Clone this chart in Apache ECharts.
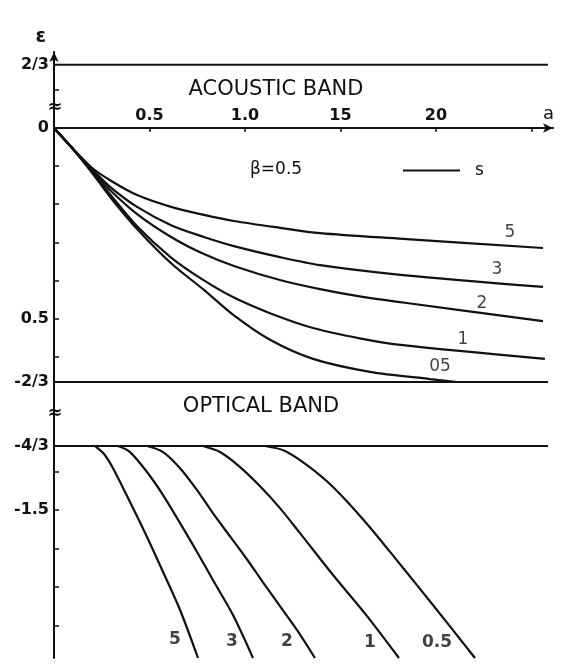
<!DOCTYPE html>
<html><head><meta charset="utf-8">
<script src="https://cdn.jsdelivr.net/npm/echarts@6/dist/echarts.min.js"></script>
<style>html,body{margin:0;padding:0;background:#fff}#c{width:565px;height:671px}</style>
</head><body><div id="c"></div>
<script>
// ---------- DATA ----------
const sValues = [5, 3, 2, 1, 0.5];
const acousticLabels = ['5', '3', '2', '1', '05'];
const opticalLabels = ['5', '3', '2', '1', '0.5'];

// acoustic band curves  [a, epsilon]
const acousticS5 = [[0,0],[0.10,-0.055],[0.20,-0.105],[0.30,-0.139],[0.435,-0.176],[0.613,-0.207],[0.785,-0.228],[0.942,-0.244],[1.183,-0.262],[1.393,-0.276],[1.827,-0.291],[2.56,-0.315]];
const acousticS3 = [[0,0],[0.10,-0.055],[0.20,-0.108],[0.30,-0.157],[0.435,-0.207],[0.613,-0.255],[0.785,-0.286],[0.942,-0.310],[1.183,-0.339],[1.393,-0.360],[1.827,-0.386],[2.56,-0.417]];
const acousticS2 = [[0,0],[0.10,-0.055],[0.20,-0.112],[0.30,-0.166],[0.435,-0.226],[0.613,-0.286],[0.785,-0.331],[0.942,-0.362],[1.183,-0.399],[1.393,-0.423],[1.6,-0.442],[1.827,-0.458],[2.56,-0.507]];
const acousticS1 = [[0,0],[0.10,-0.056],[0.20,-0.116],[0.30,-0.178],[0.435,-0.258],[0.613,-0.340],[0.785,-0.400],[0.942,-0.445],[1.131,-0.486],[1.356,-0.525],[1.6,-0.552],[1.827,-0.570],[2.57,-0.606]];
const acousticS05 = [[0,0],[0.10,-0.056],[0.20,-0.118],[0.30,-0.185],[0.435,-0.265],[0.613,-0.355],[0.785,-0.425],[0.942,-0.492],[1.131,-0.556],[1.356,-0.606],[1.654,-0.640],[1.969,-0.659],[2.11,-0.6667]];

// optical band curves  [a, epsilon]
const opticalS5 = [[0.215,-1.3333],[0.262,-1.354],[0.309,-1.391],[0.398,-1.479],[0.487,-1.570],[0.571,-1.661],[0.660,-1.760],[0.754,-1.885]];
const opticalS3 = [[0.335,-1.3333],[0.398,-1.349],[0.487,-1.401],[0.571,-1.461],[0.660,-1.534],[0.749,-1.609],[0.832,-1.682],[0.937,-1.773],[1.042,-1.885]];
const opticalS2 = [[0.487,-1.3333],[0.571,-1.349],[0.660,-1.391],[0.749,-1.448],[0.832,-1.508],[0.921,-1.568],[1.010,-1.628],[1.094,-1.688],[1.183,-1.750],[1.272,-1.812],[1.366,-1.885]];
const opticalS1 = [[0.780,-1.3333],[0.869,-1.349],[0.974,-1.388],[1.079,-1.438],[1.183,-1.495],[1.288,-1.560],[1.461,-1.669],[1.639,-1.776],[1.806,-1.885]];
const opticalS05 = [[1.105,-1.3333],[1.209,-1.346],[1.325,-1.383],[1.461,-1.440],[1.639,-1.536],[1.812,-1.641],[1.984,-1.747],[2.204,-1.885]];

// band edges
const bandEdgeValues = [2/3, -2/3, -4/3];
const bandEdgeEnd = 2.586;

// axis ticks / labels
const xTickValues = [0.5, 1.0, 1.5, 2.0, 2.5];
const xLabelValues = [0.5, 1.0, 1.5, 2.0];
const xLabelTexts = ['0.5', '1.0', '15', '20'];
const topTickValues = [0.4];
const topLabelValues = [2/3];
const topLabelTexts = ['2/3'];
const acousticTickValues = [-0.1, -0.2, -0.3, -0.4, -0.5, -0.6];
const acousticLabelValues = [0, -0.5, -2/3];
const acousticLabelTexts = ['0', '0.5', '-2/3'];
const opticalTickValues = [-1.4, -1.5, -1.6, -1.7, -1.8];
const opticalLabelValues = [-4/3, -1.5];
const opticalLabelTexts = ['-4/3', '-1.5'];

// ---------- STYLE / LAYOUT ----------
const INK = '#111';
const FONT = '"DejaVu Sans", sans-serif';
const acousticLabelOffsets = [[-33,-15],[-46,-17],[-61,-18],[-82,-19],[-17,-15]];
const opticalLabelOffsets = [[-23,-18],[-21,-16],[-28,-16],[-29,-15],[-38,-15]];
const X_MAX = 499 / 191;

const acousticCurves = [acousticS5, acousticS3, acousticS2, acousticS1, acousticS05];
const opticalCurves = [opticalS5, opticalS3, opticalS2, opticalS1, opticalS05];

function fmt(values, texts) {
  return function (v) {
    for (let i = 0; i < values.length; i++) if (Math.abs(v - values[i]) < 1e-6) return texts[i];
    return '';
  };
}

function yAxis(gridIndex, min, max, ticks, labVals, labTexts, extra) {
  return Object.assign({
    type: 'value', gridIndex, min, max, position: 'left',
    axisLine: { show: true, onZero: false, lineStyle: { color: INK, width: 2 } },
    axisTick: { show: true, inside: true, length: 5, customValues: ticks, lineStyle: { color: INK, width: 1.5 } },
    axisLabel: { show: true, customValues: labVals, formatter: fmt(labVals, labTexts), margin: 5,
      color: INK, fontFamily: FONT, fontSize: 16, fontWeight: 'bold' },
    splitLine: { show: false }
  }, extra || {});
}

function hiddenX(gridIndex) {
  return { type: 'value', gridIndex, min: 0, max: X_MAX, show: false, splitLine: { show: false } };
}

const series = [];
function lineSeries(data, idx) {
  return { type: 'line', xAxisIndex: idx, yAxisIndex: idx, data, symbol: 'none', smooth: 0.3,
    silent: true, clip: false, lineStyle: { color: INK, width: 2.2 }, z: 3 };
}
acousticCurves.forEach(c => series.push(lineSeries(c, 1)));
opticalCurves.forEach(c => series.push(lineSeries(c, 2)));
bandEdgeValues.forEach((v, i) => {
  const s = lineSeries([[0, v], [bandEdgeEnd, v]], i);
  s.smooth = false;
  s.lineStyle = { color: INK, width: 2 };
  series.push(s);
});
// curve labels (s values) placed relative to each curve's end point
function labelSeries(curves, labels, offsets, idx, bold) {
  return { type: 'scatter', xAxisIndex: idx, yAxisIndex: idx, symbolSize: 0, silent: true, clip: false, z: 5,
    data: curves.map((c, i) => ({ value: c[c.length - 1],
      label: { show: true, position: 'inside', formatter: labels[i], offset: offsets[i],
        color: INK, fontFamily: FONT, fontSize: 17, fontWeight: bold ? 'bold' : 'normal' } })) };
}
series.push(labelSeries(acousticCurves, acousticLabels, acousticLabelOffsets, 1, false));
series.push(labelSeries(opticalCurves, opticalLabels, opticalLabelOffsets, 2, true));
// legend sample series
series.push({ name: 's', type: 'line', xAxisIndex: 1, yAxisIndex: 1, data: [], color: INK, lineStyle: { color: INK } });

const option = {
  animation: false,
  backgroundColor: '#fff',
  grid: [
    { left: 54, top: 52, width: 499, height: 76, outerBoundsMode: 'none' },
    { left: 54, top: 128, width: 499, height: 254, outerBoundsMode: 'none' },
    { left: 54, top: 382, width: 499, height: 276, outerBoundsMode: 'none' }
  ],
  xAxis: [
    hiddenX(0),
    { type: 'value', gridIndex: 1, min: 0, max: X_MAX, position: 'top',
      name: 'a', nameLocation: 'end', nameGap: -10,
      nameTextStyle: { color: INK, fontFamily: FONT, fontSize: 18, verticalAlign: 'bottom', padding: [0, 0, 5, 0] },
      axisLine: { show: true, onZero: false, symbol: ['none', 'arrow'], symbolSize: [7, 10], lineStyle: { color: INK, width: 2 } },
      axisTick: { show: true, inside: true, length: 4, customValues: xTickValues, lineStyle: { color: INK, width: 1.5 } },
      axisLabel: { show: true, customValues: xLabelValues, formatter: fmt(xLabelValues, xLabelTexts), margin: 4,
        color: INK, fontFamily: FONT, fontSize: 16, fontWeight: 'bold' },
      splitLine: { show: false } },
    hiddenX(2)
  ],
  yAxis: [
    yAxis(0, 0, 0.8, topTickValues, topLabelValues, topLabelTexts, {
      name: 'ε', nameLocation: 'end', nameGap: 5,
      nameTextStyle: { color: INK, fontFamily: FONT, fontSize: 19, fontWeight: 'bold', align: 'right', padding: [0, 8, 0, 0] },
      axisLine: { show: true, onZero: false, symbol: ['none', 'arrow'], symbolSize: [7, 10], lineStyle: { color: INK, width: 2 } }
    }),
    yAxis(1, -2/3, 0, acousticTickValues, acousticLabelValues, acousticLabelTexts),
    yAxis(2, -1.885, -7/6, opticalTickValues, opticalLabelValues, opticalLabelTexts)
  ],
  legend: {
    data: [{ name: 's', icon: 'rect' }], left: 398, top: 157, itemWidth: 57, itemHeight: 2,
    selectedMode: false, textStyle: { color: INK, fontFamily: FONT, fontSize: 17, padding: [0, 0, 0, 10] }
  },
  graphic: [
    { type: 'text', x: 276, y: 90, style: { text: 'ACOUSTIC BAND', font: '21px "DejaVu Sans"', fill: INK, align: 'center', verticalAlign: 'middle' } },
    { type: 'text', x: 261, y: 407, style: { text: 'OPTICAL BAND', font: '21px "DejaVu Sans"', fill: INK, align: 'center', verticalAlign: 'middle' } },
    { type: 'text', x: 250, y: 170, style: { text: 'β=0.5', font: '17px "DejaVu Sans"', fill: INK, align: 'left', verticalAlign: 'middle' } },
    { type: 'text', x: 55, y: 107, z: 10, style: { text: '≈', font: 'bold 18px "DejaVu Sans"', fill: INK, align: 'center', verticalAlign: 'middle' } },
    { type: 'text', x: 55, y: 413, z: 10, style: { text: '≈', font: 'bold 18px "DejaVu Sans"', fill: INK, align: 'center', verticalAlign: 'middle' } }
  ],
  series
};
const chart = echarts.init(document.getElementById('c'), null, { renderer: 'canvas' });
chart.setOption(option);
</script>
</body></html>
